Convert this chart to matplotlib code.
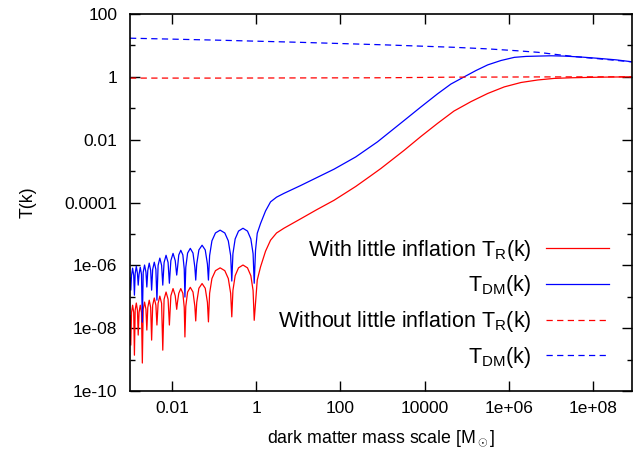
import numpy as np
import matplotlib
matplotlib.use('Agg')
import matplotlib.pyplot as plt
from matplotlib.ticker import FixedLocator, NullLocator, NullFormatter

plt.rcParams['font.family'] = ['Liberation Sans', 'DejaVu Sans']
plt.rcParams['mathtext.fontset'] = 'custom'
plt.rcParams['mathtext.rm'] = 'Liberation Sans'
plt.rcParams['mathtext.it'] = 'Liberation Sans'

# ---- data (log10 values) ----
# oscillating part of the solid curves (with little inflation): log10 mass [M_sun]
osc_log_mass = [
    -3.000,
    -2.981, -2.964, -2.938, -2.912,
    -2.895, -2.877, -2.850, -2.823,
    -2.805, -2.785, -2.756, -2.727,
    -2.707, -2.686, -2.654, -2.621,
    -2.600, -2.577, -2.543, -2.509,
    -2.486, -2.461, -2.423, -2.385,
    -2.360, -2.332, -2.291, -2.249,
    -2.221, -2.190, -2.143, -2.095,
    -2.064, -2.029, -1.977, -1.925,
    -1.890, -1.874, -1.841, -1.793, -1.744, -1.711,
    -1.695, -1.674, -1.631, -1.567, -1.503, -1.459,
    -1.438, -1.414, -1.363, -1.287, -1.212, -1.160,
    -1.136, -1.108, -1.053, -0.969, -0.858, -0.747, -0.664, -0.608,
    -0.581, -0.554, -0.501, -0.421, -0.315, -0.208, -0.128, -0.075,
    -0.048,
]
osc_log_TDM = [
    -6.40,
    -6.79, -6.32, -6.09, -6.32,
    -6.95, -6.26, -6.03, -6.26,
    -6.63, -6.29, -6.06, -6.29,
    -7.81, -6.22, -5.99, -6.22,
    -6.69, -6.16, -5.93, -6.16,
    -6.79, -6.13, -5.90, -6.13,
    -7.11, -6.00, -5.77, -6.00,
    -6.63, -5.91, -5.68, -5.91,
    -6.57, -5.85, -5.62, -5.85,
    -6.31, -6.12, -5.67, -5.52, -5.67, -6.12,
    -7.01, -6.06, -5.61, -5.46, -5.61, -6.06,
    -6.47, -5.96, -5.51, -5.36, -5.51, -5.96,
    -6.47, -5.69, -5.22, -4.97, -4.88, -4.97, -5.22, -5.69,
    -6.50, -5.63, -5.16, -4.91, -4.82, -4.91, -5.16, -5.63,
    -6.57,
]
osc_log_TR = [
    -7.60,
    -8.54, -7.50, -7.27, -7.50,
    -8.86, -7.43, -7.20, -7.43,
    -8.22, -7.50, -7.27, -7.50,
    -9.11, -7.40, -7.17, -7.40,
    -8.06, -7.34, -7.11, -7.34,
    -8.38, -7.27, -7.04, -7.27,
    -7.90, -7.21, -6.98, -7.21,
    -8.70, -7.08, -6.85, -7.08,
    -7.90, -6.97, -6.74, -6.97,
    -7.40, -7.20, -6.89, -6.74, -6.89, -7.34,
    -8.28, -7.30, -6.85, -6.70, -6.85, -7.30,
    -7.77, -7.18, -6.73, -6.58, -6.73, -7.18,
    -7.80, -6.89, -6.42, -6.17, -6.08, -6.17, -6.42, -6.89,
    -7.64, -6.80, -6.33, -6.08, -5.99, -6.08, -6.33, -6.80,
    -7.75,
]
# smooth rise of the solid curves above M ~ 1
rise_log_mass_TDM = [-0.017, 0.024, 0.102, 0.221, 0.340, 0.483, 0.657, 1.055, 1.436,
                     1.848, 2.364, 2.881, 3.514, 3.912, 4.310, 4.626, 4.943, 5.221,
                     5.500, 5.817, 6.133, 6.412, 6.690, 7.007, 7.324, 7.721, 8.119,
                     8.555, 8.983]
rise_log_TDM = [-5.52, -4.98, -4.67, -4.27, -3.98, -3.83, -3.71, -3.46, -3.21,
                -2.94, -2.55, -2.07, -1.39, -0.96, -0.54, -0.23, 0.00, 0.20,
                0.38, 0.52, 0.62, 0.65, 0.66, 0.67, 0.66, 0.63, 0.59,
                0.54, 0.47]
rise_log_mass_TR = [0.024, 0.102, 0.221, 0.340, 0.483, 0.657, 1.055, 1.436, 1.848,
                    2.364, 2.721, 2.960, 3.514, 3.912, 4.310, 4.698, 5.102, 5.500,
                    5.895, 6.293, 6.690, 7.079, 7.483, 8.198, 8.983]
rise_log_TR = [-6.47, -6.05, -5.55, -5.20, -4.97, -4.82, -4.52, -4.23, -3.93,
               -3.49, -3.15, -2.92, -2.34, -1.90, -1.48, -1.09, -0.79, -0.53,
               -0.32, -0.18, -0.10, -0.05, -0.03, -0.01, 0.00]
# dashed curves (without little inflation)
log_mass_without = [-3.0, -1.0, 1.0, 3.0, 4.7, 5.5, 6.2, 6.7, 7.2, 7.6, 8.1, 8.98]
log_TDM_without = [1.23, 1.17, 1.10, 1.02, 0.94, 0.89, 0.83, 0.78, 0.70, 0.64, 0.58, 0.47]
log_TR_without = [-0.04, -0.04, -0.035, -0.03, -0.01, -0.008, -0.005, -0.003, -0.002, -0.001, 0.0, 0.0]

labels = ['With little inflation T$_\\mathregular{R}$(k)', 'T$_\\mathregular{DM}$(k)',
          'Without little inflation T$_\\mathregular{R}$(k)', 'T$_\\mathregular{DM}$(k)']

xticks = [1e-2, 1, 1e2, 1e4, 1e6, 1e8]
xticklabels = ['0.01', '1', '100', '10000', '1e+06', '1e+08']
yticks = [1e2, 1, 1e-2, 1e-4, 1e-6, 1e-8, 1e-10]
yticklabels = ['100', '1', '0.01', '0.0001', '1e-06', '1e-08', '1e-10']
yminor = [1e1, 1e-1, 1e-3, 1e-5, 1e-7, 1e-9]

p = lambda a: np.power(10.0, np.asarray(a, dtype=float))

m_TDM = p(osc_log_mass + rise_log_mass_TDM)
v_TDM = p(osc_log_TDM + rise_log_TDM)
m_TR = p(osc_log_mass + rise_log_mass_TR)
v_TR = p(osc_log_TR + rise_log_TR)

fig = plt.figure(figsize=(6.33, 4.62), dpi=100)
ax = fig.add_axes([130/633, 1 - 391/462, (632-130)/633, (391-14)/462])

RED = '#ff0000'
BLUE = '#0000ff'
lw = 0.9
dash = (0, (5, 3.5))
ax.plot(m_TR, v_TR, color=RED, lw=lw, label=labels[0])
ax.plot(m_TDM, v_TDM, color=BLUE, lw=lw, label=labels[1])
ax.plot(p(log_mass_without), p(log_TR_without), color=RED, lw=lw, ls=dash, label=labels[2])
ax.plot(p(log_mass_without), p(log_TDM_without), color=BLUE, lw=lw, ls=dash, label=labels[3])

ax.set_xscale('log')
ax.set_yscale('log')
ax.set_xlim(1e-3, 10**8.93)
ax.set_ylim(1e-10, 1e2)

ax.xaxis.set_major_locator(FixedLocator(xticks))
ax.set_xticklabels(xticklabels)
ax.xaxis.set_minor_locator(NullLocator())
ax.yaxis.set_major_locator(FixedLocator(yticks))
ax.set_yticklabels(yticklabels)
ax.yaxis.set_minor_locator(FixedLocator(yminor))
ax.yaxis.set_minor_formatter(NullFormatter())

fs_tick = 12.5
fs_lab = 12.8
fs_leg = 15.5
ax.tick_params(which='major', direction='in', length=7, width=1.0, top=True, right=True,
               labelsize=fs_tick, colors='black')
ax.tick_params(which='minor', direction='in', length=3.5, width=1.0, top=True, right=True)
ax.tick_params(axis='y', which='major', pad=9)
ax.tick_params(axis='x', which='major', pad=7)
for s in ax.spines.values():
    s.set_linewidth(1.2)

ax.set_xlabel('dark matter mass scale [M$_\\odot$]', fontsize=fs_lab, labelpad=9)
ax.set_ylabel('T(k)', fontsize=fs_lab, labelpad=20)

leg = ax.legend(loc='upper right', bbox_to_anchor=(0.954, 0.407), frameon=False,
                markerfirst=False, fontsize=fs_leg, handlelength=2.9, handletextpad=0.7,
                labelspacing=0.5, borderaxespad=0, borderpad=0)

fig.savefig('out.png', dpi=100)
